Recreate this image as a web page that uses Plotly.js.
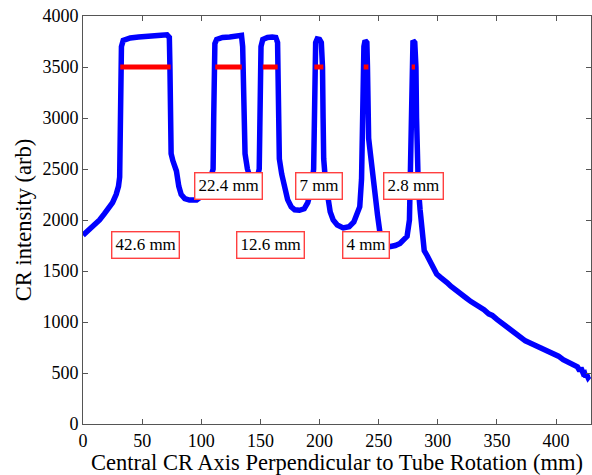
<!DOCTYPE html>
<html><head><meta charset="utf-8">
<script src="https://cdn.plot.ly/plotly-3.0.1.min.js"></script>
</head><body style="margin:0;padding:0;background:#fff"><div id="chart"></div>
<script>
// CR intensity profile
const positionMm = [0,5,10,14,18,22,25,28,30,31,31.5,32,32.5,34,40,47,54,60,66,71,73,73.5,74,74.5,76,79,81,83,86,90,96,
 100,105,108,110,110.5,111,111.5,113,118,124,130,134,135,135.5,136,137,139,141,143,147,149,149.5,150,150.5,152,156,160,163,164.5,165,165.5,166,168,170,173,176,179,183,187,190,193,195,195.5,196,196.7,198,200,201.5,202.5,203,203.5,205,207,209,211.5,215,220,225,229,232,234,235.5,236,236.5,237.5,238.5,240,240.5,241,241.5,243,245,247,249,251,253,256,260,264,268,272,274,276,276.5,277,277.5,278,279,280.5,281.5,282,282.5,283.5,285,287,288.5,
 291,294,296,299,302,305,308,311,315,318,321,324,328,332,336,339,343,346,350,353,357,360,364,367,371,374,378,381,385,388,392,395,399,402,406,409,413,416,418,420,421,423,424,425,426,427,428];
const intensity = [1850,1900,1960,2000,2060,2120,2170,2250,2330,2420,2700,3300,3700,3760,3785,3795,3805,3808,3812,3815,3790,3500,3000,2650,2580,2480,2330,2250,2210,2195,2195,
 2230,2300,2400,2500,3000,3500,3730,3770,3790,3795,3805,3810,3700,3200,2800,2650,2500,2400,2350,2400,2500,2900,3400,3700,3770,3790,3795,3790,3740,3400,2900,2600,2450,2350,2200,2130,2100,2095,2110,2170,2300,2500,3000,3500,3740,3775,3770,3740,3500,3000,2600,2380,2200,2080,2000,1950,1922,1935,1980,2060,2130,2400,2800,3300,3700,3760,3740,3500,3100,2800,2650,2420,2230,2050,1880,1780,1730,1735,1750,1770,1810,1840,2000,2300,2900,3400,3700,3760,3740,3500,3000,2600,2320,2100,1900,1700,
 1650,1570,1520,1470,1440,1420,1385,1350,1310,1285,1250,1235,1200,1170,1150,1120,1080,1065,1025,1000,960,940,895,875,840,815,795,780,760,735,725,705,680,665,630,615,590,575,560,520,550,495,500,460,480,455,470];
// FWHM markers
const fwhmStart = [31.5,111.8,152,195.6,237.3,277.9];
const fwhmEnd   = [74.1,134.2,164.6,203.2,241.3,280.7];
const fwhmLevel = 3500;
const fwhmLabels = ["42.6 mm","22.4 mm","12.6 mm","7 mm","4 mm","2.8 mm"];
const labelY = [1755,2333,1755,2333,1755,2333];

const bx=[], by=[];
fwhmStart.forEach((s,i)=>{bx.push(s,fwhmEnd[i],null);by.push(fwhmLevel,fwhmLevel,null);});

const FAM = "Liberation Serif";
const traces = [
 {x:positionMm,y:intensity,type:'scatter',mode:'lines',line:{color:'#0000ff',width:5.5},hoverinfo:'skip'},
 {x:bx,y:by,type:'scatter',mode:'lines',line:{color:'#ff0000',width:5},hoverinfo:'skip'}
];
const annotations = fwhmLabels.map((t,i)=>({
 x:(fwhmStart[i]+fwhmEnd[i])/2, y:labelY[i], xref:'x', yref:'y', text:t, showarrow:false,
 font:{family:FAM,size:17,color:'#000000'}, bgcolor:'#ffffff', bordercolor:'#ff4040', borderwidth:1.4, borderpad:3
}));
function axisBase(){ return {showgrid:false, zeroline:false, showline:true, linecolor:'#555555', linewidth:1, mirror:'ticks',
 ticks:'inside', ticklen:5, tickcolor:'#555555', tickfont:{family:FAM,size:18,color:'#000000'}}; }
const xa = axisBase(); xa.range=[0,429.5]; xa.tickvals=[0,50,100,150,200,250,300,350,400];
xa.title={text:'Central CR Axis Perpendicular to Tube Rotation (mm)', font:{family:FAM,size:22.5,color:'#000000'}, standoff:1};
const ya = axisBase(); ya.range=[0,4000]; ya.tickvals=[0,500,1000,1500,2000,2500,3000,3500,4000];
ya.title={text:'CR intensity (arb)', font:{family:FAM,size:22.5,color:'#000000'}, standoff:4};
const layout = {
 width:592, height:475, margin:{l:83,r:1,t:16,b:51}, showlegend:false,
 font:{family:FAM,size:18,color:'#000000'},
 paper_bgcolor:'#ffffff', plot_bgcolor:'#ffffff',
 xaxis:xa, yaxis:ya, annotations:annotations
};
Plotly.newPlot('chart', traces, layout, {displayModeBar:false});
</script></body></html>
